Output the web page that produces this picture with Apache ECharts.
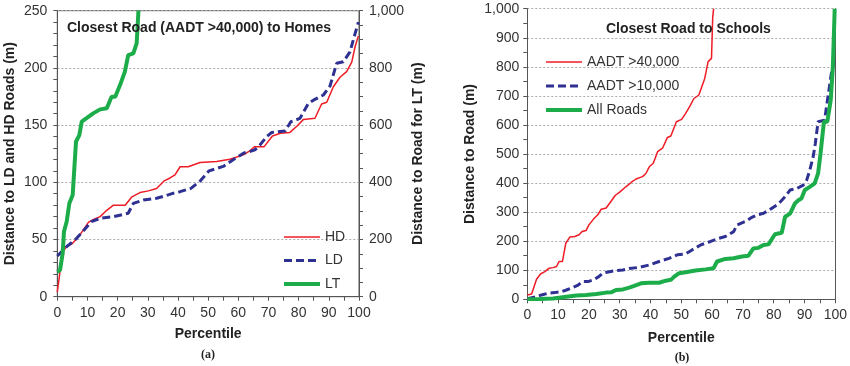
<!DOCTYPE html>
<html>
<head>
<meta charset="utf-8">
<script src="https://cdn.jsdelivr.net/npm/echarts@6/dist/echarts.min.js"></script>
<style>
html,body{margin:0;padding:0;background:#fff;}
#chart{width:850px;height:366px;}
</style>
</head>
<body>
<div id="chart"></div>
<script>
// ---- Panel (a): Closest Road (AADT >40,000) to Homes ----
const hdPct = [0, 0.8, 1.5, 3, 5, 7.5, 10.3, 12, 14.2, 16.4, 18.6, 22.5, 24.6, 27.4, 30.2, 32.9, 35.3, 37.5, 39, 40.7, 43.4, 47.3, 52.8, 57.2, 61.7, 63.9, 65.3, 68.5, 71.3, 74, 77.1, 79.4, 81.6, 85.4, 87.6, 89.3, 91.5, 93.7, 95.9, 97.6, 98.7, 99.8];
const hdVal = [4, 20, 38, 43.5, 46.5, 54, 65, 67.5, 70, 75.5, 80, 80, 87, 91, 92.5, 94.5, 101, 104, 106.5, 113.6, 113.6, 117.3, 118.2, 120.2, 124, 127.6, 131, 131, 140.5, 142.8, 143.6, 149, 155, 156, 168.4, 170, 183.5, 191.8, 196.7, 205, 218.5, 228];

const ldPct = [0, 3.1, 6.4, 9.1, 11.3, 14.2, 18.6, 23.5, 25.2, 28.5, 32.9, 36.2, 38.5, 40.7, 44.3, 47.3, 50.3, 55, 58.3, 61.7, 65.5, 67.2, 69.4, 71.1, 75.5, 77.4, 80.4, 83.2, 84.9, 88.2, 90.4, 92.6, 94.8, 97, 98.7, 99.8];
const ldVal = [35.6, 43.7, 51, 58.9, 65.6, 68.5, 70, 72.9, 81.6, 84.5, 86, 88.5, 90.5, 91.8, 94.7, 101, 110, 113.9, 119.7, 125.4, 128.3, 132.7, 139.9, 143.6, 144.8, 152.9, 155.8, 168.8, 171.8, 176.3, 184.2, 204, 205.4, 214, 230, 240];

const ltPct = [0, 0.9, 1.8, 2.2, 3.1, 4, 5.1, 6.2, 7.3, 8.1, 9.7, 11.9, 14.2, 16.4, 18, 19.2, 20.8, 22.4, 23.5, 25.2, 26.3, 26.9];
const ltVal = [87, 93, 153, 227, 262, 327, 356, 542, 565, 612, 624, 641, 655, 659, 699, 699, 740, 787, 845, 851, 886, 1000];

// ---- Panel (b): Closest Road to Schools ----
const a40Pct = [0, 1.4, 3, 4.3, 5.7, 7.1, 8.4, 9.5, 10.3, 11.4, 12.5, 13.8, 15.4, 16.8, 17.8, 19.1, 20, 21.5, 22.9, 24, 25.6, 26.9, 28.6, 29.9, 32.1, 33.7, 35.3, 37.4, 38.5, 39.6, 40.9, 42.3, 43.9, 45.5, 46.6, 48.4, 50.1, 51.4, 52.7, 54.1, 55.7, 57.6, 58.7, 59.8, 60.2, 60.5];
const a40Val = [15, 18, 69, 87, 95, 107, 109, 113, 130, 130, 193, 214, 216, 222, 233, 237, 256, 276, 291, 310, 314, 333, 358, 368, 388, 402, 414, 422, 433, 456, 468, 508, 520, 557, 562, 611, 619, 640, 663, 691, 703, 760, 818, 829, 972, 1000];

const a10Pct = [0, 3, 4.6, 6.8, 8.9, 11, 12.7, 14.8, 16.5, 17.8, 19.7, 21.5, 23.2, 24.5, 26.7, 28.8, 31, 33.1, 36.4, 39.6, 42.8, 46, 48.7, 51.4, 53.5, 56.3, 59.5, 62.2, 64.3, 67, 68.1, 70.8, 72.9, 74.5, 76.7, 79.4, 81.5, 83.7, 85.3, 87.5, 89.6, 90.7, 91.7, 92.8, 93.5, 94.4, 96.5, 97.6, 98.7, 99.2, 99.6];
const a10Val = [2, 9, 15, 21, 23, 26, 32, 41, 49, 61, 61, 67, 78, 90, 95, 99, 101, 106, 110, 118, 130, 141, 153, 156, 170, 187, 199, 210, 216, 233, 256, 268, 282, 290, 296, 313, 328, 353, 376, 381, 393, 410, 444, 490, 536, 611, 616, 696, 777, 794, 820];

const allPct = [0, 4, 8.4, 12.7, 15.9, 19.1, 22.4, 25.6, 27.2, 28.8, 31, 33.1, 34.7, 36.9, 39.6, 42.8, 45, 46.6, 47.7, 49.3, 51.4, 54.6, 57.9, 60.5, 61.6, 64.3, 67, 69.7, 71.8, 73.4, 75, 76.7, 78.3, 80.4, 82.6, 83.7, 85.3, 86.9, 88, 89, 90.1, 91.7, 93.3, 94.4, 95.2, 96.3, 97.4, 98.5, 99.2, 99.8];
const allVal = [0, 1, 3, 9, 13, 15, 18, 23, 24, 32, 34, 40, 46, 55, 57, 57, 64, 67, 78, 90, 93, 99, 103, 107, 130, 139, 141, 147, 150, 175, 177, 187, 189, 224, 229, 284, 295, 330, 341, 347, 376, 387, 399, 433, 502, 611, 611, 685, 800, 1000];

const FONT = 'Liberation Sans, Arial, sans-serif';
const RED = '#ee1c25', BLUE = '#2e3192', GREEN = '#1cad4a';
const AXC = '#555', TXT = '#333';
const pair = (xs, ys) => xs.map((x, i) => [x, ys[i]]);
const fmt = v => Number(v).toLocaleString('en-US');

function xAxisCfg(gridIndex, gap) {
  return {
    type: 'value', gridIndex, min: 0, max: 100, interval: 10,
    name: 'Percentile', nameLocation: 'middle', nameGap: gap,
    nameTextStyle: { fontFamily: FONT, fontSize: 14, fontWeight: 'bold', color: '#222' },
    axisLine: { show: true, lineStyle: { color: AXC, width: 1 } },
    axisTick: { show: true, inside: false, length: 4, lineStyle: { color: AXC } },
    minorTick: { show: true, splitNumber: 2, length: 4, lineStyle: { color: AXC } },
    axisLabel: { fontFamily: FONT, fontSize: 14, color: TXT, margin: 9 },
    splitLine: { show: false }
  };
}
const splitDot = { show: true, lineStyle: { color: '#aaa', type: [2, 2], width: 1 } };
const noSymbol = { color: 'rgba(0,0,0,0)', borderColor: 'rgba(0,0,0,0)', borderWidth: 0, opacity: 0 };
const lgRed = { color: RED, width: 1.5 };
const lgBlue = { color: BLUE, width: 3, type: [8, 4] };
const lgGreen = { color: GREEN, width: 4 };

const option = {
  animation: false,
  backgroundColor: '#fff',
  grid: [
    { left: 57.3, top: 10.7, width: 301.7, height: 286, show: true, borderColor: AXC, borderWidth: 1 },
    { left: 527.3, top: 8.7, width: 310, height: 290.6 }
  ],
  title: [
    { text: 'Closest Road (AADT >40,000) to Homes', left: 62, top: 16,
      textStyle: { fontFamily: FONT, fontSize: 14, fontWeight: 'bold', color: '#222' } },
    { text: 'Closest Road to Schools', left: 601, top: 17,
      textStyle: { fontFamily: FONT, fontSize: 14, fontWeight: 'bold', color: '#222' } }
  ],
  legend: [
    { data: [{ name: 'HD', lineStyle: lgRed }, { name: 'LD', lineStyle: lgBlue }, { name: 'LT', lineStyle: lgGreen }],
      orient: 'vertical', left: 277, top: 225,
      itemWidth: 36, itemHeight: 14, itemGap: 9.5, itemStyle: noSymbol,
      textStyle: { fontFamily: FONT, fontSize: 14, color: TXT } },
    { data: [{ name: 'AADT >40,000', lineStyle: lgRed }, { name: 'AADT >10,000', lineStyle: lgBlue }, { name: 'All Roads', lineStyle: lgGreen }],
      orient: 'vertical', left: 539, top: 50,
      itemWidth: 36, itemHeight: 14, itemGap: 10, itemStyle: noSymbol,
      textStyle: { fontFamily: FONT, fontSize: 14, color: TXT } }
  ],
  xAxis: [xAxisCfg(0, 30), xAxisCfg(1, 32)],
  yAxis: [
    { type: 'value', gridIndex: 0, min: 0, max: 250, interval: 50, position: 'left',
      name: 'Distance to LD and HD Roads (m)', nameLocation: 'middle', nameGap: 40,
      nameTextStyle: { fontFamily: FONT, fontSize: 14, fontWeight: 'bold', color: '#222' },
      axisLine: { show: true, lineStyle: { color: AXC } },
      axisTick: { show: true, length: 4, lineStyle: { color: AXC } },
      minorTick: { show: true, splitNumber: 5, length: 4, lineStyle: { color: AXC } },
      axisLabel: { fontFamily: FONT, fontSize: 14, color: TXT, margin: 10 },
      splitLine: splitDot },
    { type: 'value', gridIndex: 0, min: 0, max: 1000, interval: 200, position: 'right',
      name: 'Distance to Road for LT (m)', nameLocation: 'middle', nameGap: 52, nameRotate: 90,
      nameTextStyle: { fontFamily: FONT, fontSize: 14, fontWeight: 'bold', color: '#222' },
      axisLine: { show: true, lineStyle: { color: AXC } },
      axisTick: { show: true, length: 4, lineStyle: { color: AXC } },
      minorTick: { show: true, splitNumber: 4, length: 4, lineStyle: { color: AXC } },
      axisLabel: { fontFamily: FONT, fontSize: 14, color: TXT, margin: 10, formatter: fmt },
      splitLine: { show: false } },
    { type: 'value', gridIndex: 1, min: 0, max: 1000, interval: 100, position: 'left',
      name: 'Distance to Road (m)', nameLocation: 'middle', nameGap: 50,
      nameTextStyle: { fontFamily: FONT, fontSize: 14, fontWeight: 'bold', color: '#222' },
      axisLine: { show: true, lineStyle: { color: AXC } },
      axisTick: { show: true, length: 4, lineStyle: { color: AXC } },
      minorTick: { show: true, splitNumber: 2, length: 4, lineStyle: { color: AXC } },
      axisLabel: { fontFamily: FONT, fontSize: 14, color: TXT, margin: 8, formatter: fmt },
      splitLine: splitDot },
    { type: 'value', gridIndex: 1, min: 0, max: 1000, interval: 100, position: 'right',
      axisLine: { show: true, lineStyle: { color: AXC } },
      axisTick: { show: false }, axisLabel: { show: false }, splitLine: { show: false } }
  ],
  series: [
    { name: 'HD', type: 'line', xAxisIndex: 0, yAxisIndex: 0, data: pair(hdPct, hdVal),
      symbol: 'none', lineStyle: { color: RED, width: 1.5 }, itemStyle: { color: RED } },
    { name: 'LD', type: 'line', xAxisIndex: 0, yAxisIndex: 0, data: pair(ldPct, ldVal),
      symbol: 'none', lineStyle: { color: BLUE, width: 3, type: [8, 4] }, itemStyle: { color: BLUE } },
    { name: 'LT', type: 'line', xAxisIndex: 0, yAxisIndex: 1, data: pair(ltPct, ltVal),
      symbol: 'none', lineStyle: { color: GREEN, width: 4 }, itemStyle: { color: GREEN } },
    { name: 'AADT >40,000', type: 'line', xAxisIndex: 1, yAxisIndex: 2, data: pair(a40Pct, a40Val),
      symbol: 'none', lineStyle: { color: RED, width: 1.5 }, itemStyle: { color: RED } },
    { name: 'AADT >10,000', type: 'line', xAxisIndex: 1, yAxisIndex: 2, data: pair(a10Pct, a10Val),
      symbol: 'none', lineStyle: { color: BLUE, width: 3, type: [8, 4] }, itemStyle: { color: BLUE } },
    { name: 'All Roads', type: 'line', xAxisIndex: 1, yAxisIndex: 2, data: pair(allPct, allVal),
      symbol: 'none', lineStyle: { color: GREEN, width: 4 }, itemStyle: { color: GREEN } }
  ],
  graphic: [
    { type: 'text', style: { text: '(a)', x: 208, y: 355, textAlign: 'center', textVerticalAlign: 'middle',
      font: 'bold 12px "Liberation Serif", serif', fill: '#222' } },
    { type: 'text', style: { text: '(b)', x: 682, y: 358, textAlign: 'center', textVerticalAlign: 'middle',
      font: 'bold 12px "Liberation Serif", serif', fill: '#222' } }
  ]
};

const chart = echarts.init(document.getElementById('chart'), null, { renderer: 'canvas' });
chart.setOption(option);
</script>
</body>
</html>
